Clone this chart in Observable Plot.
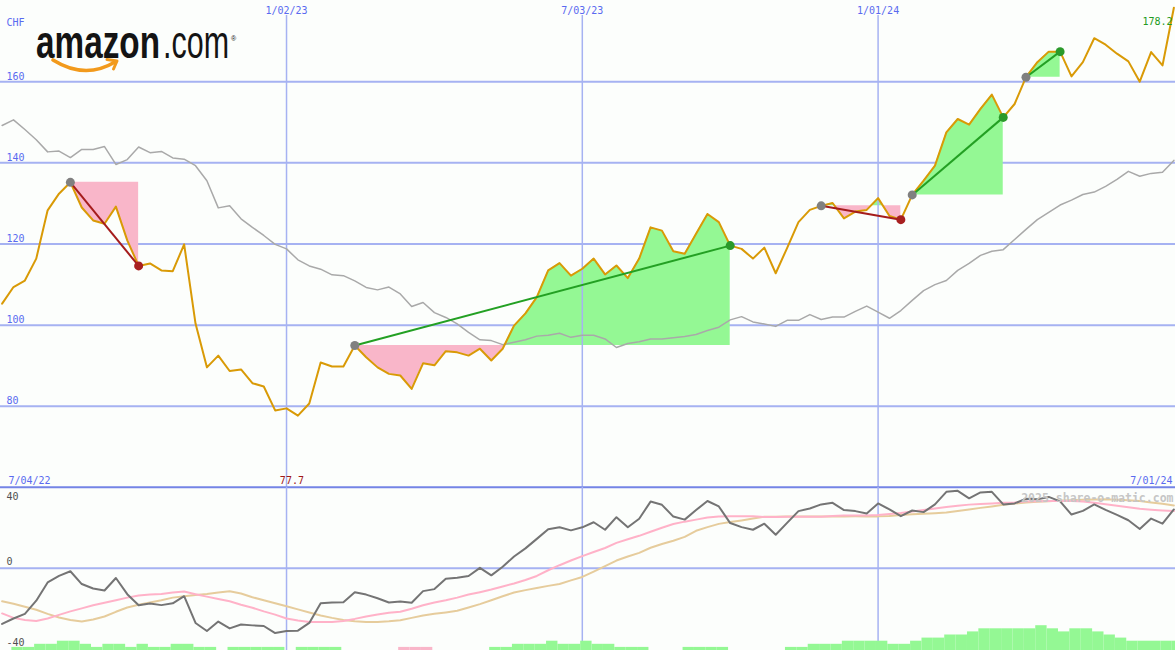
<!DOCTYPE html>
<html><head><meta charset="utf-8">
<script src="https://cdn.jsdelivr.net/npm/d3@7"></script>
<script src="https://cdn.jsdelivr.net/npm/@observablehq/plot@0.6"></script>
<style>
html,body{margin:0;padding:0;background:#fcfefc;}
#wrap{position:relative;width:1175px;height:650px;overflow:hidden;background:#fcfefc;}
#wrap svg{position:absolute;left:0;}
</style></head><body><div id="wrap"></div>
<script>
// ---- data (weekly, Mondays 2022-07-11 .. 2024-07-01) ----
const price = [105.3,109.4,111.0,116.4,128.3,132.4,135.2,129.0,125.8,125.0,
129.2,120.9,114.6,115.2,113.5,113.3,119.9,100.4,89.6,92.5,
88.7,89.1,85.7,84.9,79.0,79.5,77.7,80.7,90.8,89.8,
89.8,95.0,92.1,89.6,88.0,87.6,84.3,90.6,90.1,93.6,
93.3,92.5,94.2,91.3,94.2,99.9,102.9,106.9,113.5,115.3,
112.2,113.9,116.4,112.5,114.7,111.6,116.4,124.1,123.3,118.2,
117.6,122.5,127.4,125.4,119.6,118.8,116.4,119.1,112.8,119.0,
125.4,128.4,129.4,130.1,126.3,128.0,128.4,131.3,126.9,126.0,
132.1,135.6,139.3,147.5,150.8,149.4,153.3,156.8,151.2,154.5,
161.1,164.8,167.4,167.4,161.3,164.8,170.7,169.1,166.9,165.0,
160.0,167.3,164.0,178.2];
const avg200 = [149.2,150.6,148.2,145.7,142.7,142.9,141.3,143.3,143.3,144.0,
139.6,140.8,143.9,142.5,142.8,141.2,140.9,139.3,135.6,128.9,
129.4,126.2,124.1,122.1,119.9,118.8,116.1,114.6,113.8,112.4,
112.2,110.9,109.3,108.7,109.4,107.7,104.6,105.6,103.1,101.9,
100.3,98.2,96.4,96.2,95.2,95.8,96.4,97.3,97.5,98.0,
97.0,97.5,97.5,96.6,94.5,95.5,95.9,96.6,96.6,96.9,
97.2,97.7,98.7,99.5,101.3,102.1,100.8,100.3,99.7,101.2,
101.2,102.6,101.4,102.0,102.0,103.4,104.7,103.2,101.7,103.6,
106.1,108.5,110.0,111.0,113.5,115.2,117.2,118.2,118.6,121.1,
123.6,126.0,127.8,129.6,130.8,132.2,132.8,134.2,135.9,137.9,
136.7,137.4,137.7,140.6];
const momentum = [-27.5,-24.8,-22.5,-16.0,-7.0,-3.8,-1.5,-7.8,-10.0,-11.0,
-4.8,-12.8,-18.3,-17.4,-18.2,-17.3,-13.8,-27.0,-31.0,-26.3,
-29.7,-27.8,-28.2,-28.5,-32.0,-31.0,-30.8,-27.0,-17.3,-16.9,
-16.8,-11.9,-13.0,-14.8,-16.9,-16.4,-17.0,-11.3,-10.3,-5.2,
-4.7,-3.8,0.2,-3.5,0.7,5.8,9.8,14.5,19.3,20.2,
18.7,20.2,22.7,19.0,25.2,20.2,24.4,32.9,31.3,25.5,
24.0,28.7,33.2,30.5,22.3,20.3,19.0,22.0,16.5,22.4,
28.2,29.5,31.5,32.3,28.7,28.2,27.0,32.0,29.0,25.7,
28.5,27.7,31.5,37.7,38.2,34.5,37.4,37.7,31.5,32.0,
34.3,34.0,35.2,33.0,26.5,28.3,31.5,28.8,26.3,23.7,
19.4,24.5,22.0,29.0];
const momentumFast = [-22.3,-24.5,-25.5,-26.0,-24.8,-23.0,-21.3,-19.8,-18.3,-17.0,
-15.8,-14.5,-13.5,-13.0,-12.7,-12.0,-11.5,-12.8,-14.0,-15.2,
-16.3,-18.0,-19.5,-21.3,-22.9,-24.8,-25.8,-26.5,-26.5,-26.5,
-26.0,-25.0,-23.8,-22.8,-22.0,-21.5,-20.0,-18.3,-16.9,-15.8,
-14.5,-13.0,-11.8,-10.5,-9.0,-7.5,-5.8,-3.8,-1.0,1.5,
3.8,6.0,8.0,10.0,12.5,14.3,16.0,18.0,20.0,21.8,
23.0,24.0,25.0,25.5,25.7,25.7,25.7,25.3,25.3,25.4,
25.4,25.4,25.4,25.8,26.0,26.0,26.0,26.3,26.8,27.3,
28.0,28.8,29.5,30.2,30.8,31.4,31.7,32.0,32.3,32.5,
32.9,33.1,33.2,33.2,33.2,32.9,32.3,31.6,30.9,30.1,
29.4,28.9,28.5,28.2];
const momentumSlow = [-16.3,-17.5,-19.0,-20.5,-22.5,-24.3,-25.5,-26.3,-25.3,-23.8,
-21.5,-19.4,-18.0,-16.9,-15.8,-14.5,-13.8,-13.2,-12.7,-12.0,
-11.4,-12.5,-14.3,-15.8,-17.3,-18.8,-20.3,-21.8,-23.3,-24.5,
-25.5,-26.2,-26.5,-26.5,-26.2,-25.7,-24.5,-23.3,-22.5,-21.8,
-21.0,-19.4,-17.7,-15.8,-13.8,-12.0,-10.8,-9.7,-8.7,-7.8,
-6.0,-4.3,-1.7,1.0,3.8,5.8,7.6,10.1,12.0,13.6,
15.5,18.5,20.3,21.9,22.8,23.6,24.5,25.4,25.4,25.5,
25.5,25.5,25.5,25.5,25.5,25.6,25.6,25.6,25.8,26.3,
26.6,26.9,27.2,27.5,28.3,29.0,29.8,30.5,31.3,31.9,
32.4,32.8,33.1,33.4,33.6,33.8,33.9,34.0,33.8,33.5,
33.2,32.5,31.8,31.0];
// weekly bar levels (Sunday weeks from 2022-07-17), negative = pink
const barLevels = [1,1,2,2,3,3,2,1,2,2,
1,2,1,1,2,2,1,1,0,1,
1,1,1,1,0,1,1,1,1,0,
0,0,0,0,-1,-1,-1,0,0,0,
0,0,1,1,2,2,2,3,2,2,
3,2,2,1,1,1,0,0,0,1,
1,1,1,0,0,0,0,0,1,1,
2,2,2,3,3,3,3,2,2,3,
4,4,5,5,6,7,7,7,7,7,
8,7,6,7,7,6,5,4,3,3,
3,3,3];
const signalStart = ["2022-08-22","2023-02-13","2023-11-27","2024-01-22","2024-04-01"];
const signalEnd   = ["2022-10-03","2023-10-02","2024-01-15","2024-03-18","2024-04-22"];
const gridDates  = ["2023-01-02","2023-07-03","2024-01-01"];
const gridLabels = ["1/02/23","7/03/23","1/01/24"];
const priceTicks = [80,100,120,140,160];
const oscTicks = [0,-40];
const oscTop = 40;
const unitLabel = "CHF";
const firstLabel = "7/04/22";
const lastDateLabel = "7/01/24";
const lastPriceLabel = "178.2";
const lowLabel = "77.7";
const watermark = "2025 share-o-matic.com";

// ---- build tables ----
const weeks = d3.utcMonday.range(new Date("2022-07-11"), new Date("2024-07-02"));
const rows = weeks.map((d,i)=>({date:d, price:price[i], avg:avg200[i], mom:momentum[i], fast:momentumFast[i], slow:momentumSlow[i]}));
const idx = s => weeks.findIndex(d => +d === +new Date(s));
const signals = signalStart.map((s,j)=>{
  const a = idx(s), b = idx(signalEnd[j]);
  return {a, b, x1:weeks[a], y1:price[a], x2:weeks[b], y2:price[b], up: price[b] > price[a]};
});
const fillPts = [];
signals.forEach((s,j)=>{
  const base = s.y1;
  for (let i = s.a; i <= s.b; i++) {
    fillPts.push({sig:j, date:weeks[i], v:price[i], base});
    if (i < s.b) {
      const p0 = price[i]-base, p1 = price[i+1]-base;
      if (p0*p1 < 0) {
        const t = p0/(p0-p1);
        fillPts.push({sig:j, date:new Date(+weeks[i] + t*(weeks[i+1]-weeks[i])), v:base, base});
      }
    }
  }
});
const grid = gridDates.map((d,i)=>({date:new Date(d), label:gridLabels[i]}));
const barStarts = d3.utcSunday.range(new Date("2022-07-17"), new Date("2024-07-08"));
const bars = barLevels.map((l,i)=>({start:barStarts[i], end:d3.utcWeek.offset(barStarts[i],1), level:l}));
const minIdx = d3.minIndex(price);

const xDomain = [new Date("2022-07-10"), new Date("2024-07-02")];
const BLUE = "#5a6af0", GRID = "#a6b2f2", FONT = "DejaVu Sans Mono";
const GREEN_FILL = "#94f894", PINK_FILL = "#f9b6c9";

const common = {width:1175, marginLeft:0, marginRight:0, style:{background:"transparent", fontFamily:FONT, fontSize:"10px", overflow:"visible"}};

// ---- main price panel ----
const main = Plot.plot({
  ...common, height:487, marginTop:0, marginBottom:0,
  x:{type:"utc", domain:xDomain, axis:null},
  y:{domain:[60,180], axis:null},
  marks:[
    Plot.ruleY(priceTicks, {stroke:GRID, strokeWidth:2}),
    Plot.areaY(fillPts, {x:"date", y1:"base", y2:d=>Math.max(d.v,d.base), z:"sig", fill:GREEN_FILL, curve:"linear"}),
    Plot.areaY(fillPts, {x:"date", y1:"base", y2:d=>Math.min(d.v,d.base), z:"sig", fill:PINK_FILL, curve:"linear"}),
    Plot.ruleX(grid, {x:"date", y1:60, y2:176.3, stroke:GRID, strokeWidth:1.5}),
    Plot.lineY(rows, {x:"date", y:"avg", stroke:"#a9a9a9", strokeWidth:1.5}),
    Plot.lineY(rows, {x:"date", y:"price", stroke:"#d99a06", strokeWidth:2}),
    Plot.link(signals.filter(s=>s.up), {x1:"x1", y1:"y1", x2:"x2", y2:"y2", stroke:"#23a023", strokeWidth:2}),
    Plot.link(signals.filter(s=>!s.up), {x1:"x1", y1:"y1", x2:"x2", y2:"y2", stroke:"#a51c1c", strokeWidth:2}),
    Plot.dot(signals, {x:"x1", y:"y1", r:4.5, fill:"#808080"}),
    Plot.dot(signals.filter(s=>s.up), {x:"x2", y:"y2", r:4.5, fill:"#2a9a2a"}),
    Plot.dot(signals.filter(s=>!s.up), {x:"x2", y:"y2", r:4.5, fill:"#a82020"}),
    Plot.text(priceTicks, {y:d=>d, text:d=>String(d), frameAnchor:"left", textAnchor:"start", lineAnchor:"bottom", dx:6, dy:-2, fill:BLUE}),
    Plot.text(grid, {x:"date", text:"label", frameAnchor:"top", lineAnchor:"top", dy:6, fill:BLUE}),
    Plot.text([unitLabel], {frameAnchor:"top-left", textAnchor:"start", lineAnchor:"top", dx:6, dy:18, fill:BLUE}),
    Plot.text([lastPriceLabel], {frameAnchor:"top-right", textAnchor:"end", lineAnchor:"top", dx:-3, dy:17, fill:"#229a22"}),
    Plot.text([firstLabel], {frameAnchor:"bottom-left", textAnchor:"start", lineAnchor:"bottom", dx:8, dy:-4, fill:BLUE}),
    Plot.text([lastDateLabel], {frameAnchor:"bottom-right", textAnchor:"end", lineAnchor:"bottom", dx:-3, dy:-4, fill:BLUE}),
    Plot.text([lowLabel], {x:()=>weeks[minIdx], frameAnchor:"bottom", lineAnchor:"bottom", dx:-6, dy:-4, fill:"#a01818"})
  ]
});
main.style.top = "0px";

// logo (decoration)
const s = d3.select(main);
const g = s.append("g").attr("font-family","Liberation Sans, Arial, sans-serif").attr("fill","#141414").attr("text-anchor","start");
g.append("text").attr("x",36).attr("y",58).attr("font-size",46).attr("font-weight","bold")
  .attr("textLength",124).attr("lengthAdjust","spacingAndGlyphs").text("amazon");
g.append("text").attr("x",163).attr("y",58).attr("font-size",46).attr("font-weight","normal")
  .attr("textLength",66).attr("lengthAdjust","spacingAndGlyphs").text(".com");
g.append("text").attr("x",231).attr("y",41).attr("font-size",7).text("®");
g.append("path").attr("d","M53,60 Q85,80 115,62").attr("fill","none").attr("stroke","#f29a1c").attr("stroke-width",3.6).attr("stroke-linecap","round");
g.append("path").attr("d","M107,59.5 L117,61 L113.5,69").attr("fill","none").attr("stroke","#f29a1c").attr("stroke-width",3).attr("stroke-linecap","round").attr("stroke-linejoin","round");

// ---- oscillator panel ----
const osc = Plot.plot({
  ...common, height:165, marginTop:1.7, marginBottom:0,
  x:{type:"utc", domain:xDomain, axis:null},
  y:{domain:[-40.6,40], axis:null},
  marks:[
    Plot.ruleY(oscTicks.filter(d=>d===0), {stroke:GRID, strokeWidth:2}),
    Plot.ruleY([oscTop], {stroke:"#7484e6", strokeWidth:2}),
    Plot.ruleX(grid, {x:"date", stroke:GRID, strokeWidth:1.5}),
    Plot.lineY(rows, {x:"date", y:"slow", stroke:"#e6cc9c", strokeWidth:2}),
    Plot.lineY(rows, {x:"date", y:"fast", stroke:"#ffb2c8", strokeWidth:2}),
    Plot.lineY(rows, {x:"date", y:"mom", stroke:"#747474", strokeWidth:2}),
    Plot.text([oscTop], {y:d=>d, text:d=>String(d), frameAnchor:"left", textAnchor:"start", lineAnchor:"bottom", dx:6, dy:12.3, fill:"#505050"}),
    Plot.text(oscTicks, {y:d=>d, text:d=>String(d), frameAnchor:"left", textAnchor:"start", lineAnchor:"bottom", dx:6, dy:-3, fill:"#505050"}),
    Plot.text([watermark], {frameAnchor:"top-right", textAnchor:"end", lineAnchor:"top", dx:-2, dy:7, fill:"#c6c6c6", fontSize:11.5, fontWeight:"bold"})
  ]
});
osc.style.top = "485px";

// ---- bar strip ----
const barPlot = Plot.plot({
  ...common, height:31, marginTop:0, marginBottom:0,
  x:{type:"utc", domain:xDomain, axis:null},
  y:{domain:[0,10], axis:null},
  marks:[
    Plot.rectY(bars.filter(b=>b.level>0), {x1:"start", x2:"end", y1:0, y2:d=>d.level, fill:GREEN_FILL}),
    Plot.rectY(bars.filter(b=>b.level<0), {x1:"start", x2:"end", y1:0, y2:d=>-d.level, fill:PINK_FILL})
  ]
});
barPlot.style.top = "619px";

const wrap = document.getElementById("wrap");
wrap.appendChild(main);
wrap.appendChild(osc);
wrap.appendChild(barPlot);
</script>
</body></html>
